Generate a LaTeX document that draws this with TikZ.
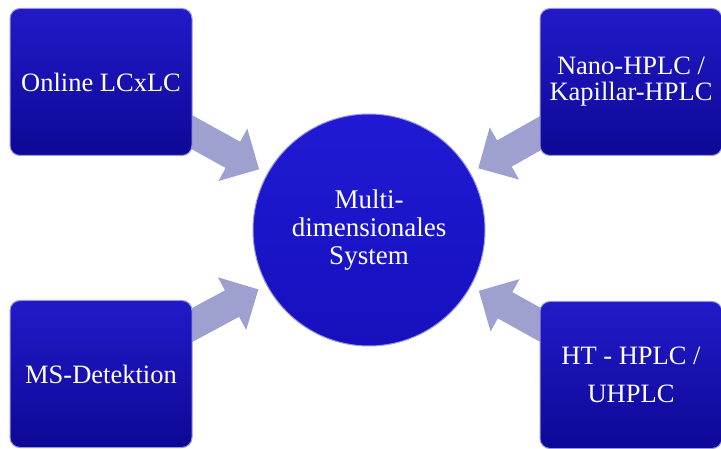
\documentclass[tikz,border=0pt]{standalone}
\usepackage{fontspec}
\setmainfont{Liberation Serif}
\usepackage{xcolor}
\usepackage{tikz}
\usetikzlibrary{positioning}
\usetikzlibrary{arrows.meta}
\usetikzlibrary{backgrounds}

\definecolor{boxtop}{RGB}{34,26,200}
\definecolor{boxbottom}{RGB}{14,8,150}
\definecolor{systemtop}{RGB}{32,26,212}
\definecolor{systembottom}{RGB}{22,16,190}
\definecolor{rimblue}{RGB}{150,150,225}
\definecolor{arrowgrey}{RGB}{158,160,208}

\begin{document}
\begin{tikzpicture}[node distance=50pt, every text node part/.style={align=center},
  topic/.style={draw=rimblue, line width=1pt, rounded corners=10pt, minimum width=182pt, minimum height=147pt, top color=boxtop, bottom color=boxbottom, text=white, font=\fontsize{26.5}{26}\selectfont},
  system/.style={circle, draw=rimblue, line width=1pt, minimum size=232pt, top color=systemtop, bottom color=systembottom, text=white, font=\fontsize{27}{28}\selectfont},
  feed/.style={line width=30pt, draw=arrowgrey, -{Triangle[width=58pt,length=30pt]}, shorten >=9pt}]
\useasboundingbox (0,0) rectangle (721pt,-449pt);

\node (online lcxlc) [topic] at (101pt,-82pt) {Online LCxLC};
\node (nano hplc) [topic, node distance=530pt, right of=online lcxlc] {Nano-HPLC /\\Kapillar-HPLC};
\node (ms detektion) [topic, node distance=292pt, below of=online lcxlc] {MS-Detektion};
\node (ht hplc) [topic, node distance=293pt, below of=nano hplc] {HT - HPLC /\\[12pt]UHPLC};

\node (system) [system] at (369pt,-230pt) {Multi-\\dimensionales\\System};

\begin{scope}[on background layer]
\draw [feed] (online lcxlc.center) -- (system);
\draw [feed] (nano hplc.center) -- (system);
\draw [feed] (ms detektion.center) -- (system);
\draw [feed] (ht hplc.center) -- (system);
\end{scope}

\end{tikzpicture}
\end{document}
